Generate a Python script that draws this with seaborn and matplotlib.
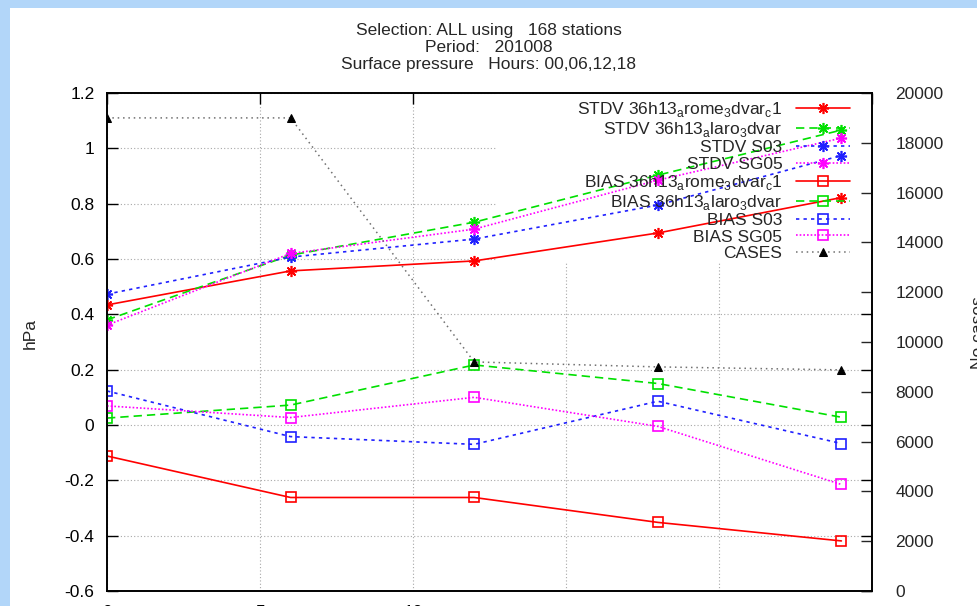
import numpy as np
import pandas as pd
import seaborn as sns
import matplotlib.pyplot as plt
from matplotlib.patches import Rectangle

# forecast length (hours)
hours = [0, 6, 12, 18, 24]

# surface pressure scores (hPa)
stdv_rome = [0.434, 0.557, 0.593, 0.694, 0.822]
stdv_laro = [0.380, 0.614, 0.733, 0.903, 1.066]
stdv_s03 = [0.473, 0.607, 0.672, 0.795, 0.974]
stdv_sg05 = [0.361, 0.620, 0.708, 0.885, 1.037]
bias_rome = [-0.112, -0.262, -0.262, -0.352, -0.419]
bias_laro = [0.025, 0.072, 0.217, 0.150, 0.028]
bias_s03 = [0.123, -0.042, -0.070, 0.086, -0.067]
bias_sg05 = [0.069, 0.027, 0.100, -0.005, -0.215]

# number of cases (right axis)
cases = [19000, 19000, 9200, 9000, 8880]

title_lines = ["Selection: ALL using   168 stations",
               "Period:   201008",
               "Surface pressure   Hours: 00,06,12,18"]

lab_rome = r"36h13$_{\rm a}$rome$_{\rm 3}$dvar$_{\rm c}$1"
lab_laro = r"36h13$_{\rm a}$laro$_{\rm 3}$dvar"

FS = 12.5

sns.set_theme(style="white")
plt.rcParams["font.family"] = ["Liberation Sans", "DejaVu Sans"]
plt.rcParams["mathtext.fontset"] = "custom"
plt.rcParams["mathtext.rm"] = "Liberation Sans"
plt.rcParams["font.size"] = FS

fig = plt.figure(figsize=(9.78, 6.06), dpi=100, facecolor="#b2d6f9")
# white window area (screenshot frame on top/left)
fig.add_artist(Rectangle((10 / 978, 0), 1, 1 - 8 / 606, transform=fig.transFigure,
                         facecolor="white", edgecolor="none", zorder=-10))

ax = fig.add_axes([107 / 978, 15 / 606, 765 / 978, 498 / 606])
ax2 = ax.twinx()

styles = [
    ("STDV " + lab_rome, stdv_rome, "#ff0000", "-", (8, 2, 0), 8),
    ("STDV " + lab_laro, stdv_laro, "#00e000", (0, (5, 3)), (8, 2, 0), 8),
    ("STDV S03", stdv_s03, "#2020ff", (0, (2, 2.5)), (8, 2, 0), 8),
    ("STDV SG05", stdv_sg05, "#ff00ff", (0, (1, 1.2)), (8, 2, 0), 8),
    ("BIAS " + lab_rome, bias_rome, "#ff0000", "-", "s", 7),
    ("BIAS " + lab_laro, bias_laro, "#00e000", (0, (5, 3)), "s", 7),
    ("BIAS S03", bias_s03, "#2020ff", (0, (2, 2.5)), "s", 7),
    ("BIAS SG05", bias_sg05, "#ff00ff", (0, (1, 1.2)), "s", 7),
]

for label, vals, col, ls, mk, ms in styles:
    sns.lineplot(x=hours, y=vals, ax=ax, color=col, linestyle=ls, linewidth=1.2,
                 marker=mk, markersize=ms, markerfacecolor="none",
                 markeredgecolor=col, markeredgewidth=1.2, label=label, zorder=3)

sns.lineplot(x=hours, y=cases, ax=ax2, color="#707070", linestyle=(0, (1, 2.5)),
             linewidth=1.1, marker="^", markersize=6, markerfacecolor="black",
             markeredgecolor="black", label="CASES", zorder=3)

ax.set_xlim(0, 25)
ax.set_ylim(-0.6, 1.2)
ax2.set_ylim(0, 20000)

ax.set_xticks([0, 5, 10, 15, 20, 25])
ax.set_xticklabels(["0", "5", "10", "", "", ""])
ax.set_yticks(np.arange(-0.6, 1.21, 0.2))
ax.set_yticklabels(["-0.6", "-0.4", "-0.2", "0", "0.2", "0.4", "0.6", "0.8", "1", "1.2"])
ax2.set_yticks(np.arange(0, 20001, 2000))

ax.grid(True, color="#a8a8a8", linestyle=(0, (1, 2)), linewidth=0.8)
ax.set_axisbelow(True)
ax2.grid(False)

ax.tick_params(axis="both", direction="in", length=8, width=1, top=True, right=True,
               labelsize=FS, colors="black", pad=9)
ax.tick_params(axis="x", pad=10)
ax2.tick_params(axis="y", direction="in", length=8, width=1, labelsize=FS, pad=17)

for a in (ax, ax2):
    for sp in a.spines.values():
        sp.set_color("black")
        sp.set_linewidth(1.2)

ax.set_xlabel("")
ax.set_ylabel("hPa", fontsize=FS)
ax.yaxis.set_label_coords(-69 / 765, 0.518)
ax2.set_ylabel("No cases", fontsize=FS)
ax2.yaxis.set_label_coords(864 / 765, 0.518)

# blank area behind key (hides grid, not data)
ax.add_patch(Rectangle((0.51, 0.66), 0.49, 0.34, transform=ax.transAxes,
                       facecolor="white", edgecolor="none", zorder=1))

h1, l1 = ax.get_legend_handles_labels()
h2, l2 = ax2.get_legend_handles_labels()
ax.get_legend().remove()
ax2.get_legend().remove()
leg = ax2.legend(h1 + h2, l1 + l2, loc="upper right",
                 bbox_to_anchor=(743 / 765, 491 / 498),
                 markerfirst=False, frameon=False, fontsize=FS, handlelength=3.1,
                 handletextpad=0.8, labelspacing=0.065, borderaxespad=0.0,
                 borderpad=0.0)

fig.text(0.5, 1 - 30 / 606, title_lines[0], ha="center", va="center", fontsize=FS)
fig.text(0.5, 1 - 47 / 606, title_lines[1], ha="center", va="center", fontsize=FS)
fig.text(0.5, 1 - 65 / 606, title_lines[2], ha="center", va="center", fontsize=FS)

fig.savefig("out.png", dpi=100)
